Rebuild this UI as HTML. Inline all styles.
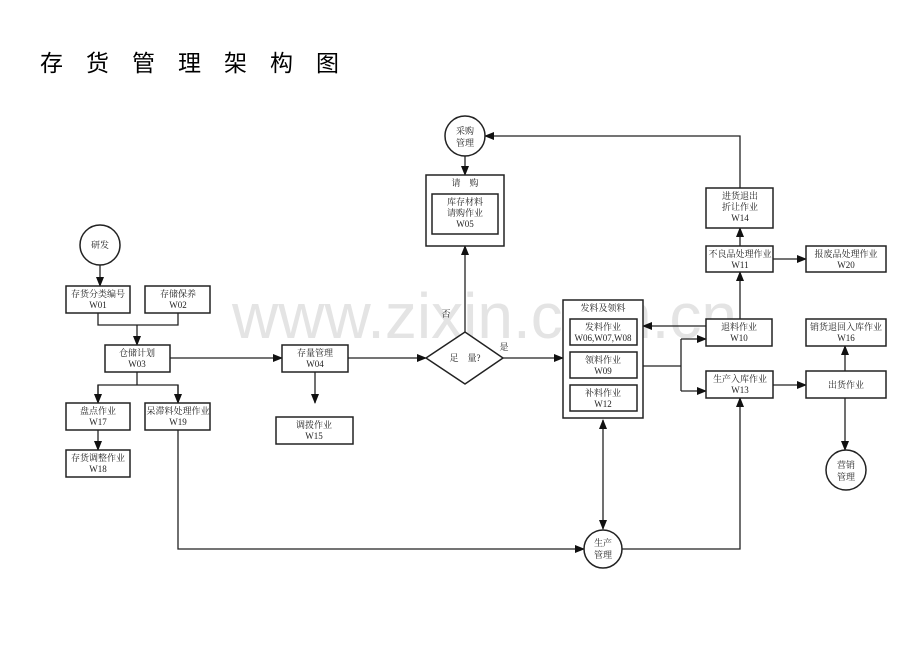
<!DOCTYPE html>
<html><head><meta charset="utf-8"><style>
html,body{margin:0;padding:0;background:#fff;}
svg{display:block;}
text{font-family:"Liberation Serif","Noto Serif CJK SC",serif;font-size:9px;fill:#222;text-anchor:middle;}
.t{font-family:"Liberation Sans","Noto Sans CJK SC",sans-serif;font-size:23px;fill:#000;text-anchor:start;}
.wm{font-family:"Liberation Sans",sans-serif;font-size:64px;fill:#e4e4e4;text-anchor:start;}
rect,circle,polygon.s{fill:#fff;stroke:#222;stroke-width:1.5;}
path,line{stroke:#222;stroke-width:1.3;fill:none;}
</style></head><body>
<svg width="920" height="651" viewBox="0 0 920 651" xmlns="http://www.w3.org/2000/svg">
<defs><marker id="a" markerWidth="10" markerHeight="8" refX="9" refY="4" orient="auto" markerUnits="userSpaceOnUse"><path d="M0,0 L10,4 L0,8 Z" style="fill:#111;stroke:none"/></marker>
<marker id="b" markerWidth="10" markerHeight="8" refX="1" refY="4" orient="auto" markerUnits="userSpaceOnUse"><path d="M10,0 L0,4 L10,8 Z" style="fill:#111;stroke:none"/></marker></defs>
<text class="t" x="40" y="71">存</text><text class="t" x="86" y="71">货</text><text class="t" x="132" y="71">管</text><text class="t" x="178" y="71">理</text><text class="t" x="224" y="71">架</text><text class="t" x="270" y="71">构</text><text class="t" x="316" y="71">图</text>
<text class="wm" x="232" y="338">www.zixin.com.cn</text>

<line x1="100" y1="265" x2="100" y2="286" marker-end="url(#a)"/>
<path d="M98,313 V325 H178 V313"/>
<line x1="137" y1="325" x2="137" y2="345" marker-end="url(#a)"/>
<path d="M137,372 V385"/>
<path d="M98,403 V385 H178 V403" />
<line x1="98" y1="385" x2="98" y2="403" marker-end="url(#a)"/>
<line x1="178" y1="385" x2="178" y2="403" marker-end="url(#a)"/>
<line x1="98" y1="430" x2="98" y2="450" marker-end="url(#a)"/>
<line x1="170" y1="358" x2="282" y2="358" marker-end="url(#a)"/>
<line x1="315" y1="372" x2="315" y2="403" marker-end="url(#a)"/>
<line x1="348" y1="358" x2="426" y2="358" marker-end="url(#a)"/>
<line x1="465" y1="332" x2="465" y2="246" marker-end="url(#a)"/>
<line x1="465" y1="156" x2="465" y2="175" marker-end="url(#a)"/>
<line x1="503" y1="358" x2="563" y2="358" marker-end="url(#a)"/>
<path d="M643,366 H681"/>
<path d="M681,339 V391"/>
<line x1="681" y1="339" x2="706" y2="339" marker-end="url(#a)"/>
<line x1="681" y1="391" x2="706" y2="391" marker-end="url(#a)"/>
<line x1="706" y1="326" x2="643" y2="326" marker-end="url(#a)"/>
<line x1="740" y1="319" x2="740" y2="272" marker-end="url(#a)"/>
<line x1="740" y1="246" x2="740" y2="228" marker-end="url(#a)"/>
<path d="M740,188 V136 H485" marker-end="url(#a)"/>
<line x1="773" y1="259" x2="806" y2="259" marker-end="url(#a)"/>
<line x1="773" y1="385" x2="806" y2="385" marker-end="url(#a)"/>
<line x1="845" y1="371" x2="845" y2="346" marker-end="url(#a)"/>
<line x1="845" y1="398" x2="845" y2="450" marker-end="url(#a)"/>
<path d="M178,430 V549 H584" marker-end="url(#a)"/>
<line x1="603" y1="420" x2="603" y2="529" marker-start="url(#b)" marker-end="url(#a)"/>
<path d="M622,549 H740 V398" marker-end="url(#a)"/>

<circle cx="100" cy="245" r="20"/><text x="100" y="248">研发</text>
<rect x="66" y="286" width="64" height="27"/><text x="98" y="297">存货分类编号</text><text x="98" y="308">W01</text>
<rect x="145" y="286" width="65" height="27"/><text x="178" y="297">存储保养</text><text x="178" y="308">W02</text>
<rect x="105" y="345" width="65" height="27"/><text x="137" y="356">仓储计划</text><text x="137" y="367">W03</text>
<rect x="66" y="403" width="64" height="27"/><text x="98" y="414">盘点作业</text><text x="98" y="425">W17</text>
<rect x="145" y="403" width="65" height="27"/><text x="178" y="414">呆滞料处理作业</text><text x="178" y="425">W19</text>
<rect x="66" y="450" width="64" height="27"/><text x="98" y="461">存货调整作业</text><text x="98" y="472">W18</text>
<rect x="282" y="345" width="66" height="27"/><text x="315" y="356">存量管理</text><text x="315" y="367">W04</text>
<rect x="276" y="417" width="77" height="27"/><text x="314" y="428">调拨作业</text><text x="314" y="439">W15</text>
<polygon class="s" points="426,358 465,332 503,358 465,384"/><text x="465" y="361">足　量?</text>
<text x="446" y="317">否</text><text x="504" y="350">是</text>
<circle cx="465" cy="136" r="20"/><text x="465" y="134">采购</text><text x="465" y="146">管理</text>
<rect x="426" y="175" width="78" height="71"/><text x="465" y="186">请　购</text>
<rect x="432" y="194" width="66" height="40"/><text x="465" y="205">库存材料</text><text x="465" y="216">请购作业</text><text x="465" y="227">W05</text>
<rect x="563" y="300" width="80" height="118"/><text x="603" y="311">发料及领料</text>
<rect x="570" y="319" width="67" height="26"/><text x="603" y="330">发料作业</text><text x="603" y="341">W06,W07,W08</text>
<rect x="570" y="352" width="67" height="26"/><text x="603" y="363">领料作业</text><text x="603" y="374">W09</text>
<rect x="570" y="385" width="67" height="26"/><text x="603" y="396">补料作业</text><text x="603" y="407">W12</text>
<rect x="706" y="319" width="66" height="27"/><text x="739" y="330">退料作业</text><text x="739" y="341">W10</text>
<rect x="706" y="371" width="67" height="27"/><text x="740" y="382">生产入库作业</text><text x="740" y="393">W13</text>
<rect x="706" y="246" width="67" height="26"/><text x="740" y="257">不良品处理作业</text><text x="740" y="268">W11</text>
<rect x="706" y="188" width="67" height="40"/><text x="740" y="199">进货退出</text><text x="740" y="210">折让作业</text><text x="740" y="221">W14</text>
<rect x="806" y="246" width="80" height="26"/><text x="846" y="257">报废品处理作业</text><text x="846" y="268">W20</text>
<rect x="806" y="319" width="80" height="27"/><text x="846" y="330">销货退回入库作业</text><text x="846" y="341">W16</text>
<rect x="806" y="371" width="80" height="27"/><text x="846" y="388">出货作业</text>
<circle cx="846" cy="470" r="20"/><text x="846" y="468">营销</text><text x="846" y="480">管理</text>
<circle cx="603" cy="549" r="19"/><text x="603" y="546">生产</text><text x="603" y="558">管理</text>
</svg>
</body></html>
